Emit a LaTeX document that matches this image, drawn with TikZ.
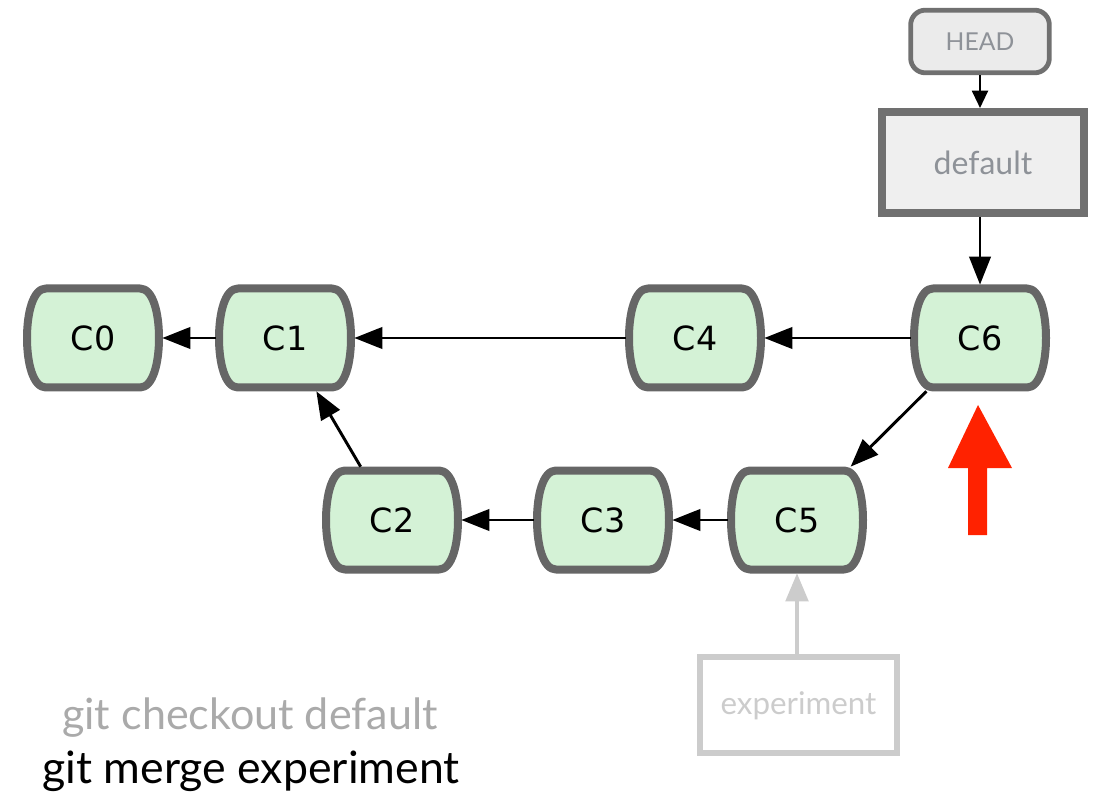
\documentclass[tikz,border=0pt]{standalone}
\usepackage{fontspec}
\setmainfont{Lato}
\newfontfamily\commitfont{DejaVu Sans}
\usetikzlibrary{arrows.meta}
\definecolor{commitfill}{HTML}{D4F2D6}
\definecolor{commitline}{HTML}{666666}
\definecolor{reffill}{HTML}{EFEFEF}
\definecolor{refline}{HTML}{707070}
\definecolor{headfill}{HTML}{EBEBEB}
\definecolor{reftext}{HTML}{8E9298}
\definecolor{faded}{HTML}{CCCCCC}
\definecolor{cmdgray}{HTML}{AAAAAA}
\definecolor{redarrow}{HTML}{FF2200}
\newcommand\commitnode[3]{%
  \begin{scope}[shift={#2}]
    \draw[commitshape] (-47,-49.5) -- (47,-49.5)
      .. controls (60,-49.5) and (66,-25) .. (66,0)
      .. controls (66,25) and (60,49.5) .. (47,49.5)
      -- (-47,49.5)
      .. controls (-60,49.5) and (-66,25) .. (-66,0)
      .. controls (-66,-25) and (-60,-49.5) .. (-47,-49.5) -- cycle;
  \end{scope}
  \node[commit] (#1) at #2 {#3};
}
\begin{document}
\begin{tikzpicture}[x=0.75pt,y=-0.75pt,
  commitshape/.style={draw=commitline, line width=6pt, fill=commitfill, line join=round},
  commit/.style={rectangle, minimum width=104pt, minimum height=80pt, inner sep=0pt, outer sep=0pt,
    font=\commitfont\fontsize{25}{25}\selectfont},
  link/.style={draw=black, line width=2.2pt, -{Triangle[length=21pt,width=16pt]}},
  smalllink/.style={draw=black, line width=1.6pt, -{Triangle[length=13pt,width=12pt]}},
  fadedlink/.style={draw=faded, line width=2.4pt, -{Triangle[length=21pt,width=17pt]}},
  headbox/.style={draw=refline, line width=3.6pt, fill=headfill, rounded corners=11pt,
    minimum width=104pt, minimum height=47pt, inner sep=0pt, text=reftext, font=\fontsize{18.5}{18.5}\selectfont},
  branchbox/.style={draw=refline, line width=6pt, fill=reffill,
    minimum width=151.5pt, minimum height=75.75pt, inner sep=0pt, text=reftext, font=\fontsize{24}{24}\selectfont},
  fadedbox/.style={draw=faded, line width=4.5pt, fill=white,
    minimum width=147.75pt, minimum height=72pt, inner sep=0pt, text=faded, font=\fontsize{23.5}{23.5}\selectfont},
  cmd/.style={anchor=base west, inner sep=0pt}
]
\useasboundingbox (0,0) rectangle (1096,798);

\commitnode{C0}{(93,338)}{C0}
\commitnode{C1}{(285,338)}{C1}
\commitnode{C4}{(695,338)}{C4}
\commitnode{C6}{(980,338)}{C6}
\commitnode{C2}{(392,520)}{C2}
\commitnode{C3}{(603,520)}{C3}
\commitnode{C5}{(797,520)}{C5}

\node[headbox] (HEAD) at (980,41.5) {HEAD};
\node[branchbox] (default) at (983,162.5) {default};
\node[fadedbox, text depth=0pt, text height=14pt, yshift=-3pt] (experiment) at (798.5,701) {experiment};

\draw[link] (C1) -- (C0);
\draw[link] (C4) -- (C1);
\draw[link] (C6) -- (C4);
\draw[link] (C6) -- (C5);
\draw[link] (C5) -- (C3);
\draw[link] (C3) -- (C2);
\draw[link] (C2) -- (C1);
\draw[smalllink] (HEAD.south -| C6) -- (default.north -| C6);
\draw[link] (default.south -| C6) -- (C6);
\draw[fadedlink] (experiment.north -| C5) -- (C5);

% red arrow
\fill[redarrow] (968,535) -- (987,535) -- (987,468) -- (1012,468) -- (978,405)
  -- (948,468) -- (968,468) -- cycle;

\node[cmd, text=cmdgray, font=\fontsize{32.3}{32.3}\selectfont] (cmd1) at (62,729) {git checkout default};
\node[cmd, text=black, font=\fontsize{33.5}{33.5}\selectfont] (cmd2) at (42,783) {git merge experiment};
\end{tikzpicture}
\end{document}
